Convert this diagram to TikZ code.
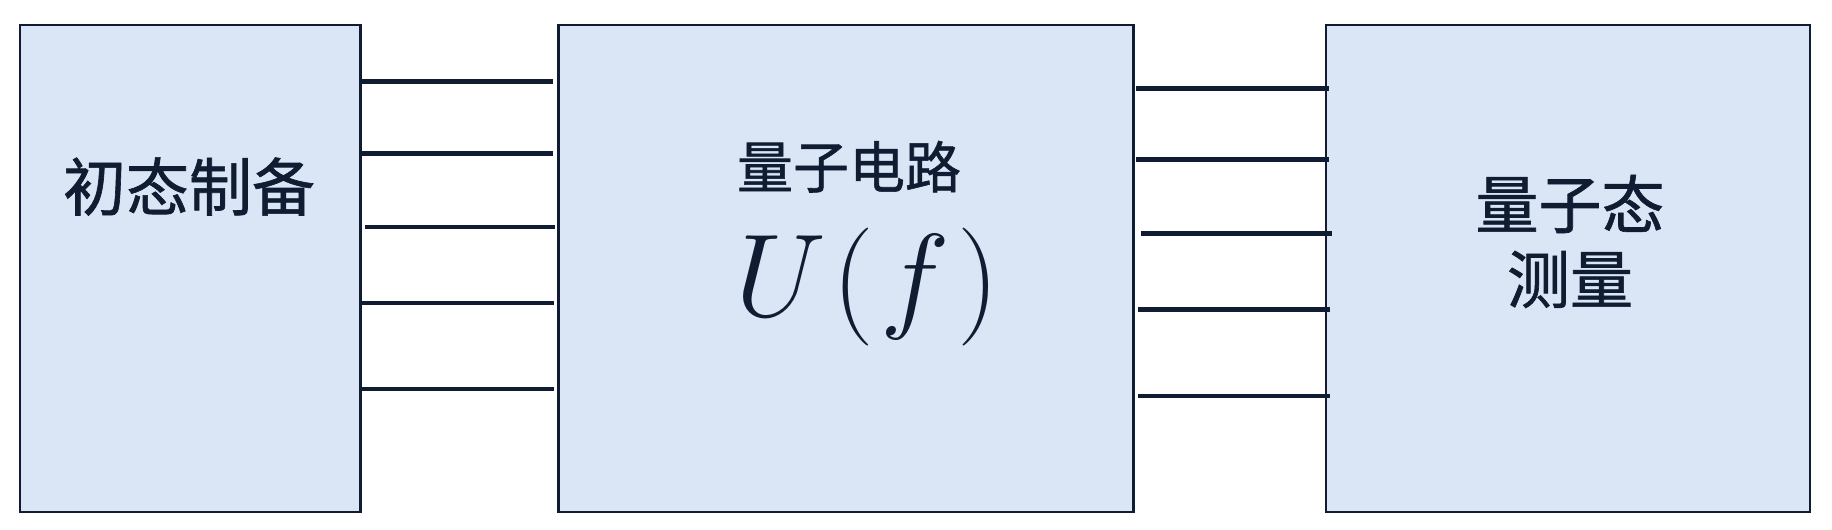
\documentclass[tikz,border=0pt]{standalone}
\usepackage{fix-cm}
\usepackage{fontspec}
\newfontfamily\cjk[FakeBold=1]{Noto Sans CJK SC}
\definecolor{fillb}{RGB}{218,230,245}
\definecolor{inkc}{RGB}{16,28,50}
\begin{document}
\begin{tikzpicture}[x=1pt,y=-1pt,
  box/.style={draw=inkc, fill=fillb, line width=2.8pt, inner sep=0pt, outer sep=0pt},
  wire/.style={draw=inkc, line width=4.8pt},
  lbl/.style={text=inkc, inner sep=0pt, align=center},
  big/.style={font=\cjk\fontsize{63}{75}\selectfont},
  mid/.style={font=\cjk\fontsize{56}{66}\selectfont}]
\useasboundingbox (0,0) rectangle (1832,530);
\node[box, minimum width=340.5pt, minimum height=487pt] (L) at (190.25,268.5) {};
\node[box, minimum width=575pt, minimum height=487pt] (M) at (846,268.5) {};
\node[box, minimum width=484pt, minimum height=487pt] (R) at (1568,268.5) {};
\node[lbl, big] (Lt) at (189,186.5) {初态制备};
\node[lbl, mid] (Mt) at (849,166.7) {量子电路};
\node[lbl, font=\fontsize{118}{120}\selectfont] (Uf) at (867,287.5) {$U\mkern1mu(\mkern1mu f\mkern1mu)$};
\node[lbl, big] (Rt) at (1570,241.5) {量子态\\测量};
% left wires
\coordinate (a1) at (362,81.4);  \coordinate (b1) at (553,81.4);
\coordinate (a2) at (362,153.7); \coordinate (b2) at (553,153.7);
\coordinate (a3) at (365,227);   \coordinate (b3) at (555,227);
\coordinate (a4) at (362,303);   \coordinate (b4) at (554,303);
\coordinate (a5) at (362,389);   \coordinate (b5) at (554,389);
\foreach \i in {1,...,5} {\draw[wire] (a\i) -- (b\i);}
% right wires
\coordinate (c1) at (1136.4,88.2);  \coordinate (d1) at (1328.7,88.2);
\coordinate (c2) at (1136.4,159.8); \coordinate (d2) at (1328.7,159.8);
\coordinate (c3) at (1141,233.8);   \coordinate (d3) at (1331.5,233.8);
\coordinate (c4) at (1138,309.8);   \coordinate (d4) at (1330,309.8);
\coordinate (c5) at (1138,396);     \coordinate (d5) at (1330,396);
\foreach \i in {1,...,5} {\draw[wire] (c\i) -- (d\i);}
\end{tikzpicture}
\end{document}
